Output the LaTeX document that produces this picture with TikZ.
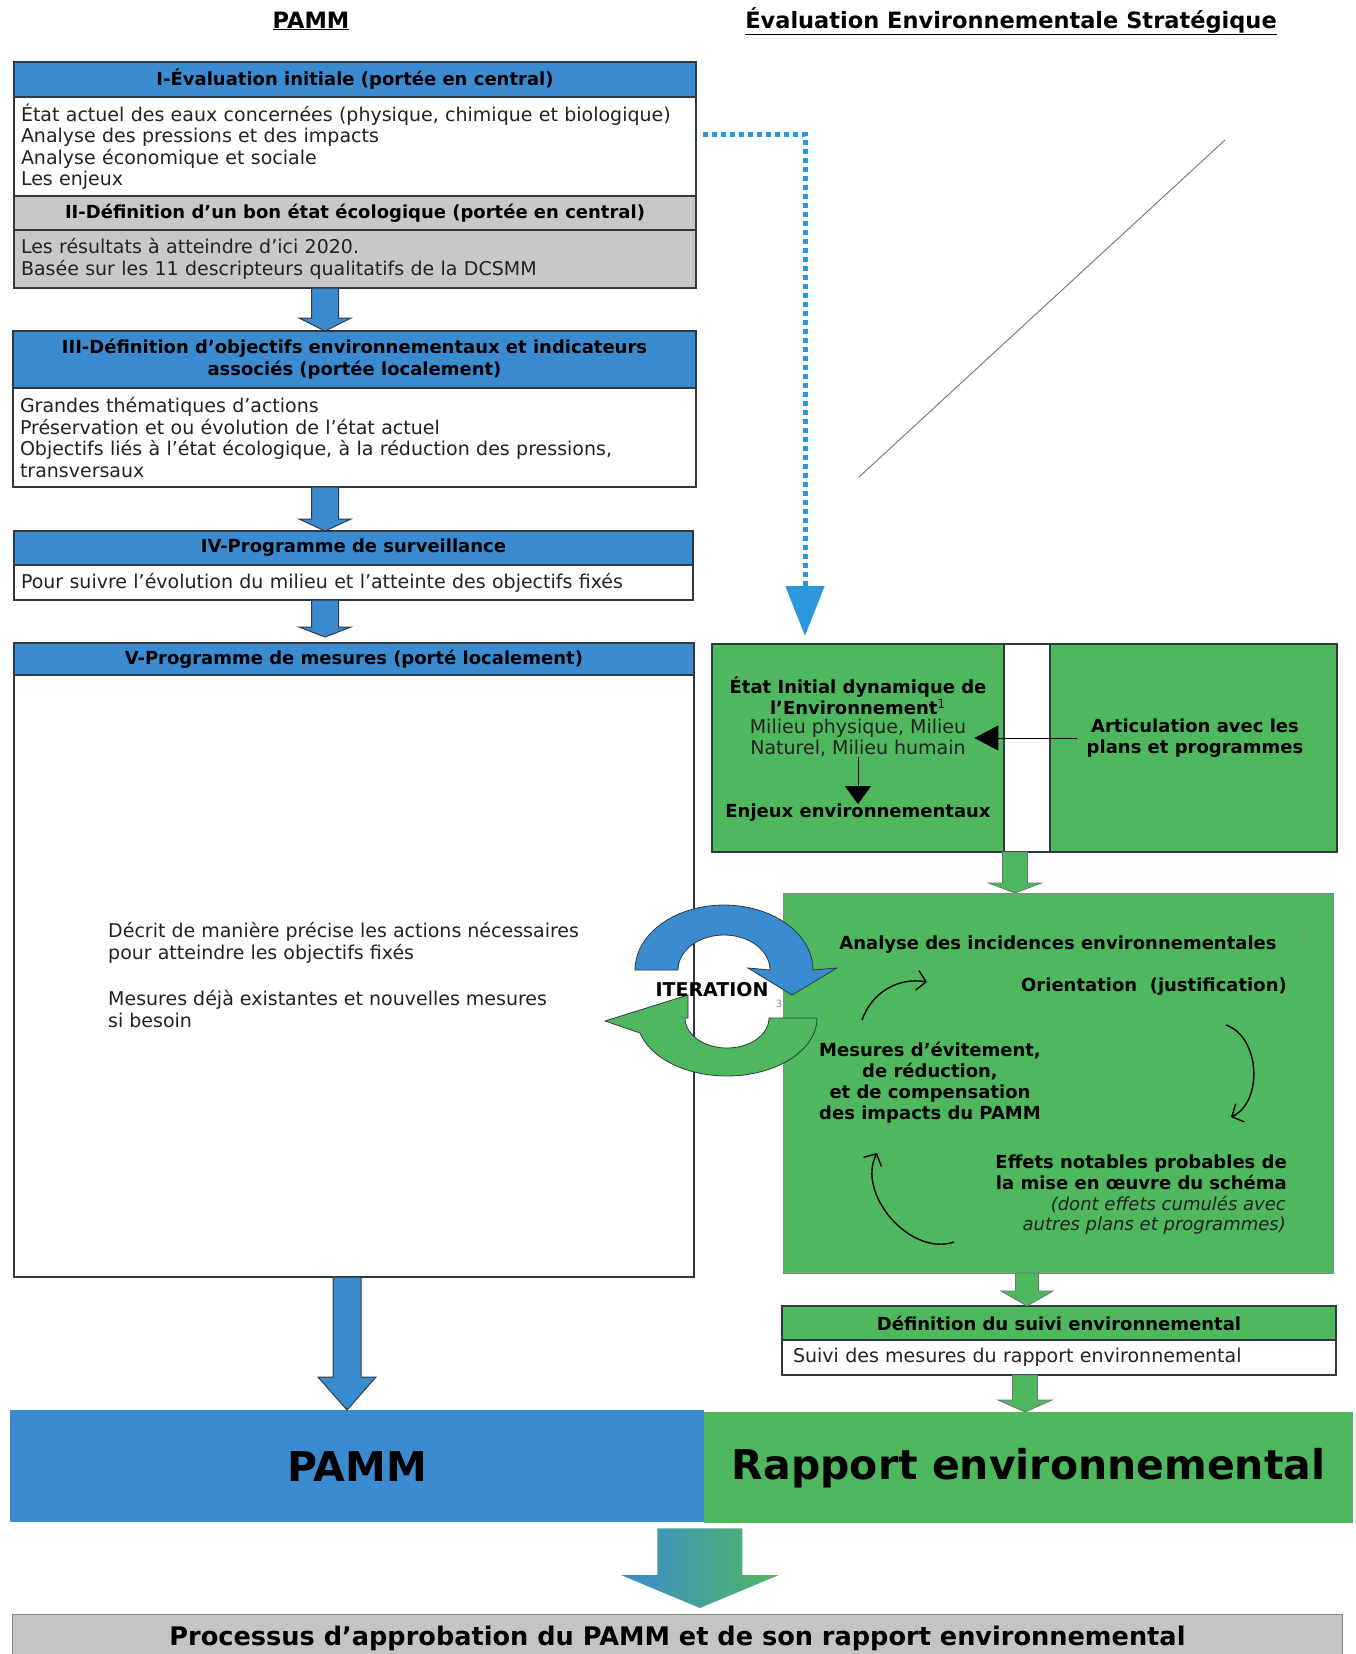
\documentclass[tikz,border=0pt]{standalone}
\usepackage{fontspec}
\setmainfont{DejaVu Sans}
\usepackage{tikz}
\usetikzlibrary{calc,arrows.meta}
\definecolor{pammblue}{HTML}{3B8BD0}
\definecolor{eesgreen}{HTML}{4FB85F}
\definecolor{greybox}{HTML}{C8C8C8}
\definecolor{procgrey}{HTML}{C4C4C4}
\definecolor{edge}{HTML}{2F3A40}
\definecolor{dotblue}{HTML}{2A98DA}
\definecolor{ink}{HTML}{222222}
\tikzset{
  toptitle/.style={inner sep=0pt, font=\fontsize{22.5}{26}\selectfont\bfseries},
  hdr/.style={draw=edge, line width=1.2pt, fill=pammblue, anchor=north west, inner sep=0pt, outer sep=0pt, align=center, font=\fontsize{18}{22}\selectfont\bfseries},
  body/.style={draw=edge, line width=1.2pt, fill=white, anchor=north west, inner xsep=7pt, inner ysep=0pt, outer sep=0pt, align=left, text=ink, font=\fontsize{19}{21.5}\selectfont},
  greenpart/.style={draw=edge, line width=1.2pt, fill=eesgreen, anchor=north west, inner sep=0pt, outer sep=0pt},
  boldtxt/.style={inner sep=0pt, font=\fontsize{18}{21}\selectfont\bfseries},
  regtxt/.style={inner sep=0pt, text=ink, font=\fontsize{19}{21}\selectfont},
  itxt/.style={inner sep=0pt, text=ink, font=\fontsize{18}{20.5}\selectfont\itshape},
  note/.style={inner sep=0pt, text=black!45, font=\fontsize{10}{10}\selectfont},
  bluearrow/.style={fill=pammblue, draw=edge, line width=1pt},
  greenarrow/.style={fill=eesgreen, draw=edge!70, line width=0.8pt},
  bigarrow/.style={left color=pammblue, right color=eesgreen},
  curv/.style={draw=black, line width=1.4pt, -{Straight Barb[length=9pt,width=20pt]}},
}
% block arrow: style, from, to, shaft half width, head half width, head length
\newcommand{\blockarrow}[6]{%
  \path[#1] let \p1=(#2), \p2=(#3) in
    (\x1-#4,\y1) -- (\x1-#4,\y2+#6) -- (\x1-#5,\y2+#6) -- (\x1,\y2)
    -- (\x1+#5,\y2+#6) -- (\x1+#4,\y2+#6) -- (\x1+#4,\y1) -- cycle;}

\begin{document}
\begin{tikzpicture}[x=1pt, y=-1pt]
  \useasboundingbox (0,0) rectangle (1355,1654);
  \fill[white] (0,0) rectangle (1355,1654);

  \node[toptitle] (tPamm) at (311,21) {\underline{PAMM}};
  \node[toptitle] (tEes) at (1011,21) {\underline{Évaluation Environnementale Stratégique}};

  % PAMM column
  \node[hdr, minimum width=682pt, minimum height=35pt] (hdI) at (14,62) {I-Évaluation initiale (portée en central)};
  \node[body, text width=668pt, minimum height=99pt] (bodyI) at (14,97)
    {État actuel des eaux concernées (physique, chimique et biologique)\\Analyse des pressions et des impacts\\Analyse économique et sociale\\Les enjeux};
  \node[hdr, fill=greybox, minimum width=682pt, minimum height=34pt] (hdII) at (14,196) {II-Définition d'un bon état écologique (portée en central)};
  \node[body, fill=greybox, text width=668pt, minimum height=58pt] (bodyII) at (14,230)
    {Les résultats à atteindre d'ici 2020.\\Basée sur les 11 descripteurs qualitatifs de la DCSMM};

  \node[hdr, minimum width=683pt, minimum height=57pt] (hdIII) at (13,331)
    {III-Définition d'objectifs environnementaux et indicateurs\\associés (portée localement)};
  \node[body, text width=669pt, minimum height=99pt] (bodyIII) at (13,388)
    {Grandes thématiques d'actions\\Préservation et ou évolution de l'état actuel\\Objectifs liés à l'état écologique, à la réduction des pressions,\\transversaux};

  \node[hdr, minimum width=679pt, minimum height=34pt] (hdIV) at (14,531) {IV-Programme de surveillance};
  \node[body, text width=665pt, minimum height=35pt] (bodyIV) at (14,565)
    {Pour suivre l'évolution du milieu et l'atteinte des objectifs fixés};

  \node[hdr, minimum width=680pt, minimum height=32pt] (hdV) at (14,643) {V-Programme de mesures (porté localement)};
  \node[body, text width=666pt, minimum height=602pt] (bodyV) at (14,675) {};
  \node[regtxt, anchor=west, align=left, font=\fontsize{19}{22}\selectfont] (decrit) at (108,943)
    {Décrit de manière précise les actions nécessaires\\pour atteindre les objectifs fixés};
  \node[regtxt, anchor=west, align=left, font=\fontsize{19}{22}\selectfont] (existe) at (108,1009)
    {Mesures déjà existantes et nouvelles mesures\\si besoin};

  \blockarrow{bluearrow}{[xshift=-30pt]bodyII.south}{hdIII.north}{13.5pt}{26pt}{13pt}
  \blockarrow{bluearrow}{[xshift=-29.5pt]bodyIII.south}{hdIV.north}{13.5pt}{26pt}{12pt}
  \blockarrow{bluearrow}{[xshift=-28.5pt]bodyIV.south}{[yshift=6pt]hdV.north}{13.5pt}{26pt}{10pt}

  % EES column
  \node[greenpart, minimum width=292pt, minimum height=208pt] (etatL) at (712,644) {};
  \node[greenpart, fill=white, minimum width=46pt, minimum height=208pt] (strip) at (1004,644) {};
  \node[greenpart, minimum width=287pt, minimum height=208pt] (etatR) at (1050,644) {};
  \node[boldtxt, align=center] (etatT) at (858,696) {État Initial dynamique de\\l'Environnement\textsuperscript{\mdseries 1}};
  \node[regtxt, align=center, font=\fontsize{19}{20.5}\selectfont] (milieu) at (858,738) {Milieu physique, Milieu\\Naturel, Milieu humain};
  \node[boldtxt] (enjeux) at (858,813) {Enjeux environnementaux};
  \node[boldtxt, align=center] (artic) at (1195,738) {Articulation avec les\\plans et programmes};
  \draw[line width=1pt, -{Triangle[width=26pt,length=18pt]}] (milieu.south) -- (enjeux.north);
  \draw[line width=1pt, -{Triangle[width=25pt,length=24pt]}] ([xshift=-10pt]artic.west) -- ([xshift=8pt]milieu.east);

  % dotted link from the initial assessment
  \draw[dotblue, line width=5pt, dash pattern=on 5pt off 4pt, -{Triangle[width=38pt,length=50pt]}]
    ([xshift=7pt,yshift=12.5pt]bodyI.east) -| ([xshift=93pt,yshift=8pt]etatL.north west);

  \coordinate (slashA) at (859,477);
  \coordinate (slashB) at (1225,140);
  \draw[black!55, line width=0.9pt] (slashA) -- (slashB);

  \node[greenpart, draw=edge!60, line width=0.8pt, minimum width=550pt, minimum height=380pt] (analyse) at (783,893) {};
  \node[boldtxt] (incid) at (1058,945) {Analyse des incidences environnementales};
  \node[note] (note2) at (1303,935) {2};
  \node[boldtxt, anchor=east] (orient) at (1287,987) {Orientation\ \ (justification)};
  \node[boldtxt, align=center] (mesures) at (930,1083) {Mesures d'évitement,\\de réduction,\\et de compensation\\des impacts du PAMM};
  \node[boldtxt, align=right, anchor=east] (effets) at (1287,1172) {Effets notables probables de\\la mise en œuvre du schéma};
  \node[itxt, align=right, anchor=east] (cumul) at (1286,1215) {(dont effets cumulés avec\\autres plans et programmes)};

  \coordinate (cyA) at (862,1020);
  \coordinate (cyB) at (927,982);
  \coordinate (cyC) at (1226,1025);
  \coordinate (cyD) at (1231,1117);
  \coordinate (cyE) at (954,1242);
  \coordinate (cyF) at (877,1153);
  \draw[curv] (cyA) to[bend left=40] (cyB);
  \draw[curv] (cyC) to[bend left=68] (cyD);
  \draw[curv] (cyE) to[bend left=68] (cyF);

  \blockarrow{greenarrow}{[xshift=11pt]etatL.south east}{analyse.north}{12.5pt}{26.5pt}{10pt}

  % iteration loop
  \filldraw[fill=pammblue, draw=edge, line width=0.8pt]
    plot[domain=180:360, samples=40] ({724+89*cos(\x)},{970+65*sin(\x)})
    -- (837,968) -- (792,995) -- (748,968)
    -- plot[domain=360:180, samples=40] ({724+46*cos(\x)},{970+35*sin(\x)}) -- cycle;
  \filldraw[fill=eesgreen, draw=edge, line width=0.8pt]
    plot[domain=0:165, samples=40] ({727+90*cos(\x)},{1018+58*sin(\x)})
    -- (605,1021) -- (688,995) -- (688,1018)
    -- plot[domain=180:0, samples=40] ({727+42*cos(\x)},{1018+30*sin(\x)}) -- cycle;
  \node[boldtxt, font=\fontsize{19}{21}\selectfont\bfseries] (iter) at (712,990) {ITERATION};
  \node[note] (note3) at (779,1004) {3};

  \node[greenpart, minimum width=554pt, minimum height=34pt, font=\fontsize{18}{21}\selectfont\bfseries] (hdSuivi) at (782,1306) {Définition du suivi environnemental};
  \node[body, inner xsep=11pt, text width=532pt, minimum height=35pt] (bodySuivi) at (782,1340) {Suivi des mesures du rapport environnemental};
  \blockarrow{greenarrow}{[xshift=-31pt]analyse.south}{hdSuivi.north}{11.5pt}{26pt}{15pt}

  % final documents
  \node[anchor=north west, fill=pammblue, inner sep=0pt, minimum width=694pt, minimum height=112pt, font=\fontsize{41}{45}\selectfont\bfseries] (pamm) at (10,1410) {PAMM};
  \node[anchor=north west, fill=eesgreen, inner sep=0pt, minimum width=649pt, minimum height=111pt, font=\fontsize{41}{45}\selectfont\bfseries] (rapport) at (704,1412) {Rapport environnemental};
  \blockarrow{bluearrow}{[xshift=-7pt]bodyV.south}{pamm.north}{14pt}{29pt}{33pt}
  \blockarrow{greenarrow}{[xshift=-34pt]bodySuivi.south}{rapport.north}{12.5pt}{27pt}{12pt}

  \node[anchor=north west, fill=procgrey, draw=edge!60, line width=1pt, inner sep=0pt, minimum width=1330pt, minimum height=48pt, font=\fontsize{25.6}{28}\selectfont\bfseries] (proc) at (12,1614)
    {Processus d'approbation du PAMM et de son rapport environnemental};
  \blockarrow{bigarrow}{[xshift=-4.5pt,yshift=-6pt]pamm.south east}{[yshift=6pt]proc.north}{42.5pt}{79pt}{33pt}
\end{tikzpicture}
\end{document}
